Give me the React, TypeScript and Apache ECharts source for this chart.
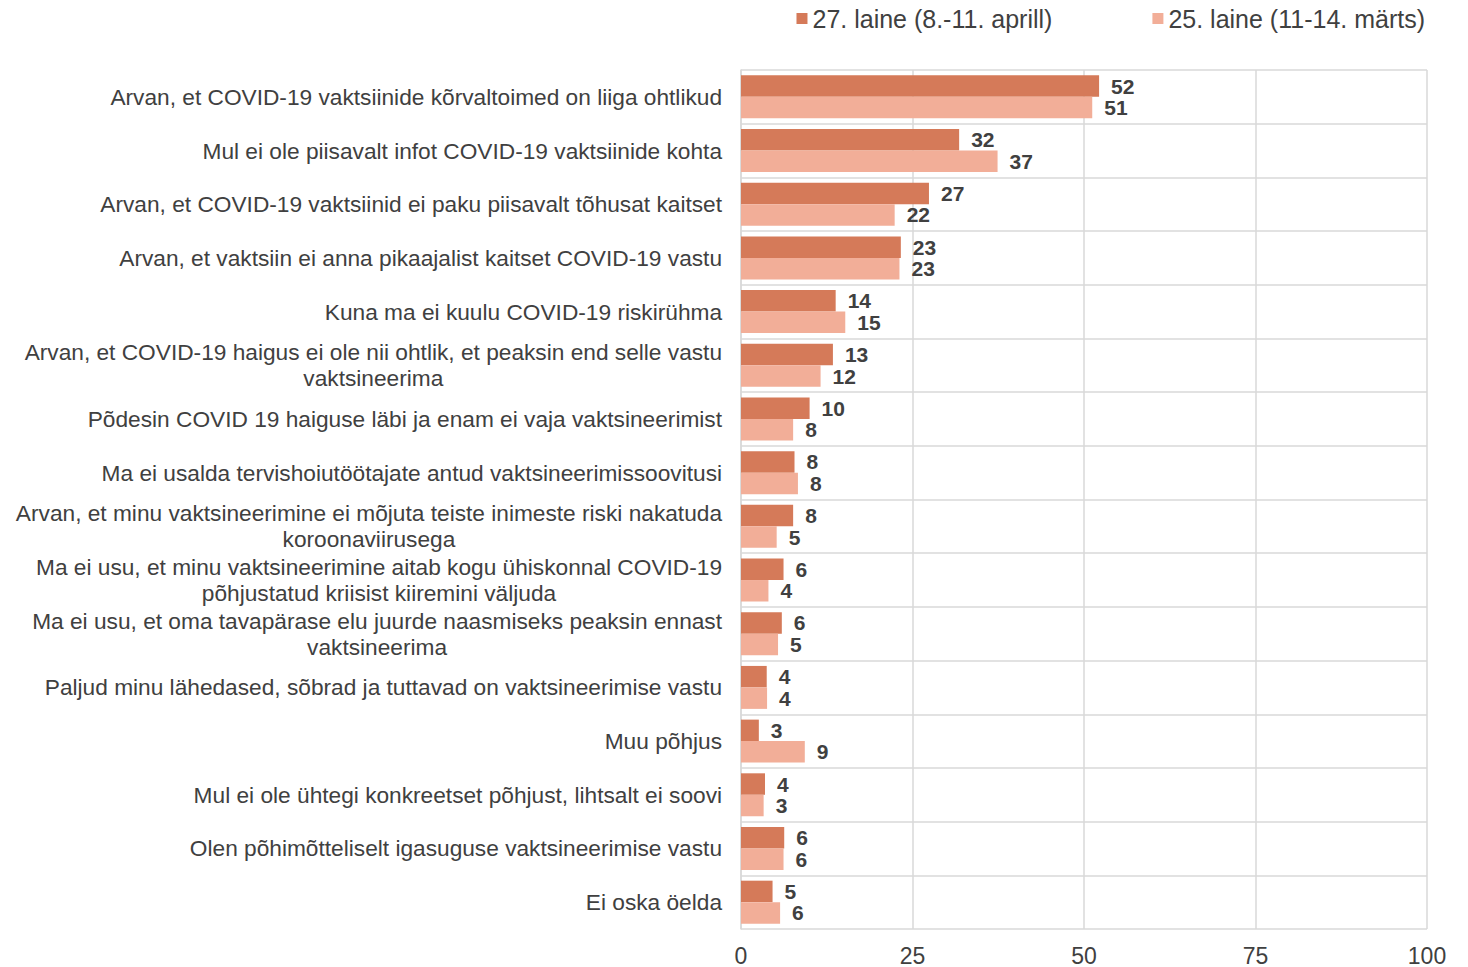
import React, { useEffect, useRef } from "react";
import * as echarts from "echarts";

const categories = [
  "Arvan, et COVID-19 vaktsiinide kõrvaltoimed on liiga ohtlikud",
  "Mul ei ole piisavalt infot COVID-19 vaktsiinide kohta",
  "Arvan, et COVID-19 vaktsiinid ei paku piisavalt tõhusat kaitset",
  "Arvan, et vaktsiin ei anna pikaajalist kaitset COVID-19 vastu",
  "Kuna ma ei kuulu COVID-19 riskirühma",
  "Arvan, et COVID-19 haigus ei ole nii ohtlik, et peaksin end selle vastu\nvaktsineerima",
  "Põdesin COVID 19 haiguse läbi ja enam ei vaja vaktsineerimist",
  "Ma ei usalda tervishoiutöötajate antud vaktsineerimissoovitusi",
  "Arvan, et minu vaktsineerimine ei mõjuta teiste inimeste riski nakatuda\nkoroonaviirusega",
  "Ma ei usu, et minu vaktsineerimine aitab kogu ühiskonnal COVID-19\npõhjustatud kriisist kiiremini väljuda",
  "Ma ei usu, et oma tavapärase elu juurde naasmiseks peaksin ennast\nvaktsineerima",
  "Paljud minu lähedased, sõbrad ja tuttavad on vaktsineerimise vastu",
  "Muu põhjus",
  "Mul ei ole ühtegi konkreetset põhjust, lihtsalt ei soovi",
  "Olen põhimõtteliselt igasuguse vaktsineerimise vastu",
  "Ei oska öelda",
];

const seriesNames = ["27. laine (8.-11. aprill)", "25. laine (11-14. märts)"];

const wave27 = [52.2, 31.8, 27.4, 23.3, 13.8, 13.4, 10.0, 7.8, 7.6, 6.2, 5.95, 3.75, 2.6, 3.5, 6.3, 4.6];
const wave25 = [51.2, 37.4, 22.4, 23.1, 15.2, 11.6, 7.6, 8.3, 5.2, 4.0, 5.4, 3.8, 9.3, 3.3, 6.2, 5.7];

const xTicks = { min: 0, max: 100, interval: 25 };

const FONT = "'Liberation Sans', Arial, sans-serif";
const TEXT = "#404040";
const GRID = "#D9D9D9";

export default function App() {
  const ref = useRef<HTMLDivElement>(null);

  useEffect(() => {
    if (!ref.current) return;
    const chart = echarts.init(ref.current, undefined, { renderer: "svg" });
    const labelCfg = {
      show: true,
      position: "right",
      distance: 12,
      fontFamily: FONT,
      fontSize: 21,
      lineHeight: 20,
      fontWeight: "bold",
      color: TEXT,
      formatter: (p: any) => String(Math.round(p.value)),
    };
    chart.setOption({
      animation: false,
      backgroundColor: "#ffffff",
      textStyle: { fontFamily: FONT },
      legend: {
        top: 6,
        right: 43,
        itemWidth: 11,
        itemHeight: 11,
        itemGap: 100,
        padding: 0,
        icon: "rect",
        textStyle: { fontFamily: FONT, fontSize: 25, color: TEXT },
        data: seriesNames,
      },
      grid: { left: 741, right: 41, top: 70, bottom: 38, containLabel: false },
      xAxis: {
        type: "value",
        min: xTicks.min,
        max: xTicks.max,
        interval: xTicks.interval,
        axisLine: { show: false },
        axisTick: { show: false },
        axisLabel: { fontFamily: FONT, fontSize: 23, color: TEXT, margin: 15 },
        splitLine: { show: true, lineStyle: { color: GRID, width: 1.5 } },
      },
      yAxis: {
        type: "category",
        inverse: true,
        data: categories,
        axisLine: { show: true, lineStyle: { color: GRID, width: 1.5 } },
        axisTick: { show: false },
        splitLine: { show: true, interval: 0, lineStyle: { color: GRID, width: 1.5 } },
        axisLabel: {
          interval: 0,
          margin: 19,
          fontFamily: FONT,
          fontSize: 22.7,
          color: TEXT,
          lineHeight: 26,
          formatter: (v: string) =>
            v
              .split("\n")
              .map((l) => `{c|${l}}`)
              .join("\n"),
          rich: {
            c: { align: "center", fontFamily: FONT, fontSize: 22.7, color: TEXT, lineHeight: 26 },
          },
        },
      },
      series: [
        {
          name: seriesNames[0],
          type: "bar",
          data: wave27,
          barGap: "0%",
          barCategoryGap: "20%",
          itemStyle: { color: "#D57A59" },
          label: labelCfg,
        },
        {
          name: seriesNames[1],
          type: "bar",
          data: wave25,
          barGap: "0%",
          barCategoryGap: "20%",
          itemStyle: { color: "#F2AE98" },
          label: labelCfg,
        },
      ],
    });
    return () => chart.dispose();
  }, []);

  return (
    <div
      ref={ref}
      style={{ position: "fixed", left: 0, top: 0, width: 1468, height: 967 }}
    />
  );
}
